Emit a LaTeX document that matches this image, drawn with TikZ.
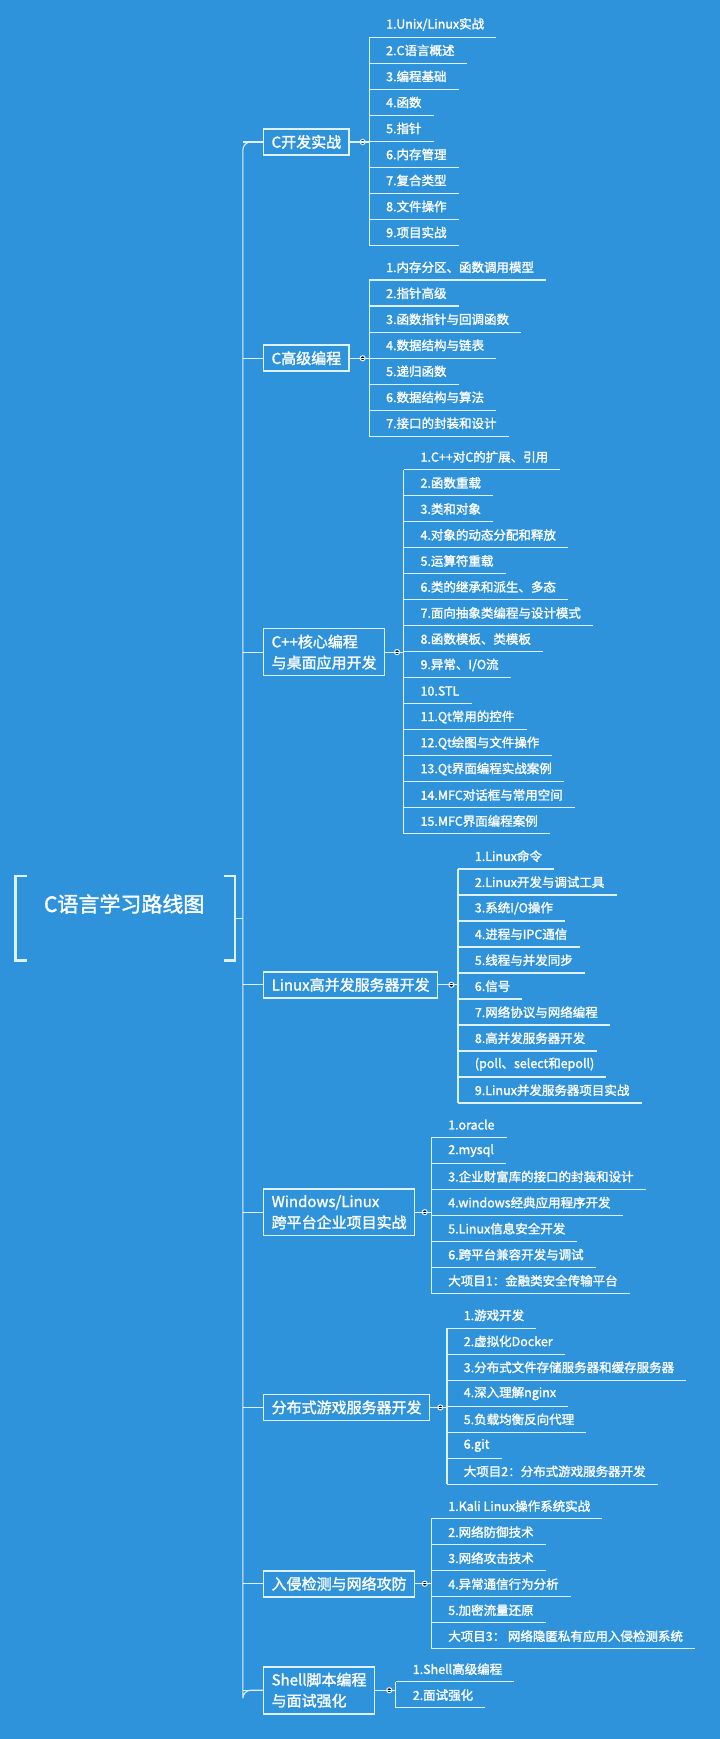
\documentclass[tikz,border=0pt]{standalone}
\usepackage{fontspec}
\setmainfont{Noto Sans CJK SC}[AutoFakeBold=1.6]
\definecolor{bg}{HTML}{2E93DB}
\definecolor{ln}{HTML}{DDF1FF}
\tikzset{
  ln/.style={draw=ln, line width=1.1pt},
  item/.style={text=white, font=\fontsize{12.5}{14}\selectfont\bfseries, inner sep=0pt, anchor=west},
  mainbox/.style={draw=ln, line width=1.6pt, text=white, font=\fontsize{15}{21}\selectfont\bfseries, align=left, inner xsep=8pt, inner ysep=6pt, anchor=west},
}
\newcommand\mybranch[7]{% name, box text, cy, cx, fy, n, list
  \node[mainbox] (#1) at (237,#3) {#2};
  \fill[ln] (#4-6,#3) circle (2.3);
  \draw[ln] (#1.east) -- (#4,#3);
  \foreach \t [count=\i] in {#7} {
    \node[item] (#1-\i) at (#4+15,{#5+(\i-1)*23.45}) {\t};
    \coordinate (#1-s\i) at (#4,{#5+(\i-1)*23.45+11.5});
    \coordinate (#1-e\i) at ([xshift=12pt]#1-\i.east);
    \draw[ln] (#1-s\i) -- (#1-s\i -| #1-e\i);
  }
  \coordinate (#1-top) at (#4,#5+11.5);
  \coordinate (#1-bot) at (#4,{#5+(#6-1)*23.45+11.5});
  \draw[ln] (#1-top) -- (#1-bot);
  \draw[ln] (219,#3) -- (#1.west);
}
\begin{document}
\begin{tikzpicture}[x=1.1094pt,y=-1.1094pt]
\fill[bg] (0,0) rectangle (649,1568);
\useasboundingbox (0,0) rectangle (649,1568);
% root
\node[text=white, font=\fontsize{21}{24}\selectfont\bfseries] (root) at (112,815) {C语言学习路线图};
\draw[ln, line width=2.2pt] (24,790) -- (14,790) -- (14,866) -- (24,866);
\draw[ln, line width=2.2pt] (202,790) -- (212,790) -- (212,866) -- (202,866);
\coordinate (rt) at (212,828);
\coordinate (tr) at (219,828);
\draw[ln] (rt) -- (tr);
% trunk
\mybranch{b1}{C开发实战}{128}{333}{22}{9}{1.Unix/Linux实战,2.C语言概述,3.编程基础,4.函数,5.指针,6.内存管理,7.复合类型,8.文件操作,9.项目实战}
\mybranch{b2}{C高级编程}{323}{333}{241}{7}{1.内存分区、函数调用模型,2.指针高级,3.函数指针与回调函数,4.数据结构与链表,5.递归函数,6.数据结构与算法,7.接口的封装和设计}
\mybranch{b3}{C++核心编程\\与桌面应用开发}{588}{364}{412}{15}{1.C++对C的扩展、引用,2.函数重载,3.类和对象,4.对象的动态分配和释放,5.运算符重载,6.类的继承和派生、多态,7.面向抽象类编程与设计模式,8.函数模板、类模板,9.异常、I/O流,10.STL,11.Qt常用的控件,12.Qt绘图与文件操作,13.Qt界面编程实战案例,14.MFC对话框与常用空间,15.MFC界面编程案例}
\mybranch{b4}{Linux高并发服务器开发}{888}{413}{772}{10}{1.Linux命令,2.Linux开发与调试工具,3.系统I/O操作,4.进程与IPC通信,5.线程与并发同步,6.信号,7.网络协议与网络编程,8.高并发服务器开发,{(poll、select和epoll)},9.Linux并发服务器项目实战}
\mybranch{b5}{Windows/Linux\\跨平台企业项目实战}{1093}{389}{1014}{7}{1.oracle,2.mysql,3.企业财富库的接口的封装和设计,4.windows经典应用程序开发,5.Linux信息安全开发,6.跨平台兼容开发与调试,大项目1：金融类安全传输平台}
\mybranch{b6}{分布式游戏服务器开发}{1269}{403}{1186}{7}{1.游戏开发,2.虚拟化Docker,3.分布式文件存储服务器和缓存服务器,4.深入理解nginx,5.负载均衡反向代理,6.git,大项目2：分布式游戏服务器开发}
\mybranch{b7}{入侵检测与网络攻防}{1428}{389}{1358}{6}{1.Kali Linux操作系统实战,2.网络防御技术,3.网络攻击技术,4.异常通信行为分析,5.加密流量还原,大项目3：\ 网络隐匿私有应用入侵检测系统}
\mybranch{b8}{Shell脚本编程\\与面试强化}{1524}{357}{1505}{2}{1.Shell高级编程,2.面试强化}
\draw[ln, rounded corners=8pt] (b1.west) -| (219,1528) |- (b8.west);
\end{tikzpicture}
\end{document}
